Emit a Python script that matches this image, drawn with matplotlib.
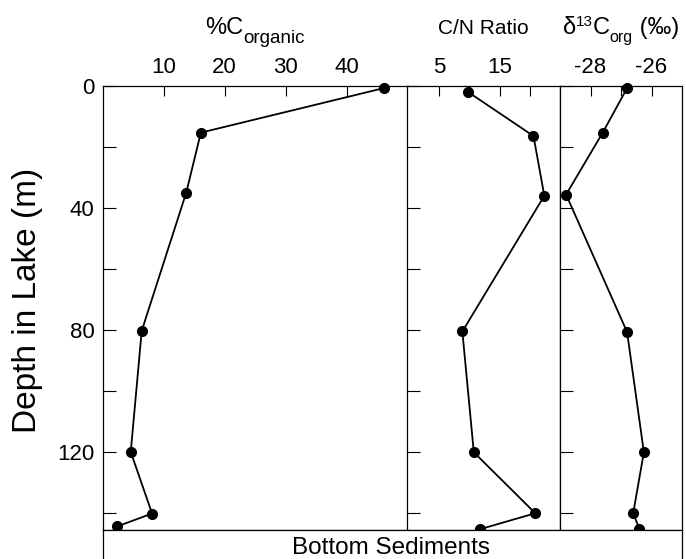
import numpy as np
import matplotlib
matplotlib.use('Agg')
import matplotlib.pyplot as plt

plt.rcParams['font.family'] = ['Liberation Sans', 'DejaVu Sans']

# %C organic
depth_c = [0.7, 15.3, 35, 80.3, 120, 140.2, 144.4]
c_org = [46.1, 16.1, 13.7, 6.4, 4.6, 8.1, 2.4]

# C/N ratio
depth_cn = [1.9, 16.4, 36, 80.5, 120.1, 140.1, 145.3]
cn_ratio = [9.7, 20.6, 22.4, 8.8, 10.7, 20.9, 11.8]

# d13C org
depth_d13 = [0.7, 15.3, 35.6, 80.7, 120.1, 140.1, 145.2]
d13c = [-26.8, -27.6, -28.8, -26.8, -26.25, -26.6, -26.4]

W, H = 686, 559
fig = plt.figure(figsize=(W/100, H/100), dpi=100)

def fx(px):
	return px / W

def fy(py):
	return (H - py) / H

top, bot = 86, 530
edges = [102.7, 407.5, 560, 682]

panels = [
	(c_org, depth_c, (0, 50), [10, 20, 30, 40]),
	(cn_ratio, depth_cn, (-0.3, 25), [5, 10, 15, 20]),
	(d13c, depth_d13, (-29, -25), [-28, -27, -26]),
]
xlabels = [['10', '20', '30', '40'], ['5', '', '15', ''], ['-28', '', '-26']]

# title pieces: (text, size, pixel offset down from baseline)
titles = [
	[('%C', 17, 0), ('organic', 13.5, 9)],
	[('C/N Ratio', 15, 0)],
	[('δ', 17, 0), ('13', 11, -7.5), ('C', 17, 0), ('org', 11.5, 8), (' (‰)', 17, 0)],
]

axes = []
for i, (vals, dep, xl, xt) in enumerate(panels):
	ax = fig.add_axes([fx(edges[i]), fy(bot), fx(edges[i+1]-edges[i]), (bot-top)/H])
	ax.plot(vals, dep, '-o', color='black', lw=1.3, ms=7, clip_on=False, zorder=3)
	ax.set_xlim(*xl)
	ax.set_ylim(145.6, 0)
	ax.xaxis.tick_top()
	ax.set_xticks(xt)
	ax.set_xticklabels(xlabels[i])
	ax.tick_params(axis='x', direction='in', length=7.5, width=0.8, labelsize=16, pad=6)
	ax.set_yticks([0, 40, 80, 120])
	ax.set_yticks([20, 60, 100, 140], minor=True)
	ax.tick_params(axis='y', which='both', direction='in', length=9, width=0.8, labelsize=16, pad=6)
	if i > 0:
		ax.tick_params(axis='y', labelleft=False)
	for s in ax.spines.values():
		s.set_linewidth(0.9)
	axes.append(ax)

# titles built piece by piece so sub/superscripts match
renderer = fig.canvas.get_renderer()
base_y = 34
for i, pieces in enumerate(titles):
	cx = (edges[i] + edges[i+1]) / 2
	texts = []
	for s, size, dy in pieces:
		t = fig.text(0, fy(base_y + dy), s, fontsize=size, ha='left', va='baseline')
		texts.append(t)
	widths = [t.get_window_extent(renderer).width for t in texts]
	x = cx - sum(widths) / 2
	for t, w in zip(texts, widths):
		t.set_x(fx(x))
		x += w

fig.text(fx(28), fy(300), 'Depth in Lake (m)', rotation=90, ha='center', va='center', fontsize=24)

# bottom sediments strip
axb = fig.add_axes([fx(edges[0]), 0, fx(edges[-1]-edges[0]), fy(bot)])
axb.set_xticks([])
axb.set_yticks([])
axb.spines['bottom'].set_visible(False)
for s in axb.spines.values():
	s.set_linewidth(0.9)
fig.text(fx(391), fy(554), 'Bottom Sediments', ha='center', va='baseline', fontsize=17.5)

plt.savefig('out.png', dpi=100)
